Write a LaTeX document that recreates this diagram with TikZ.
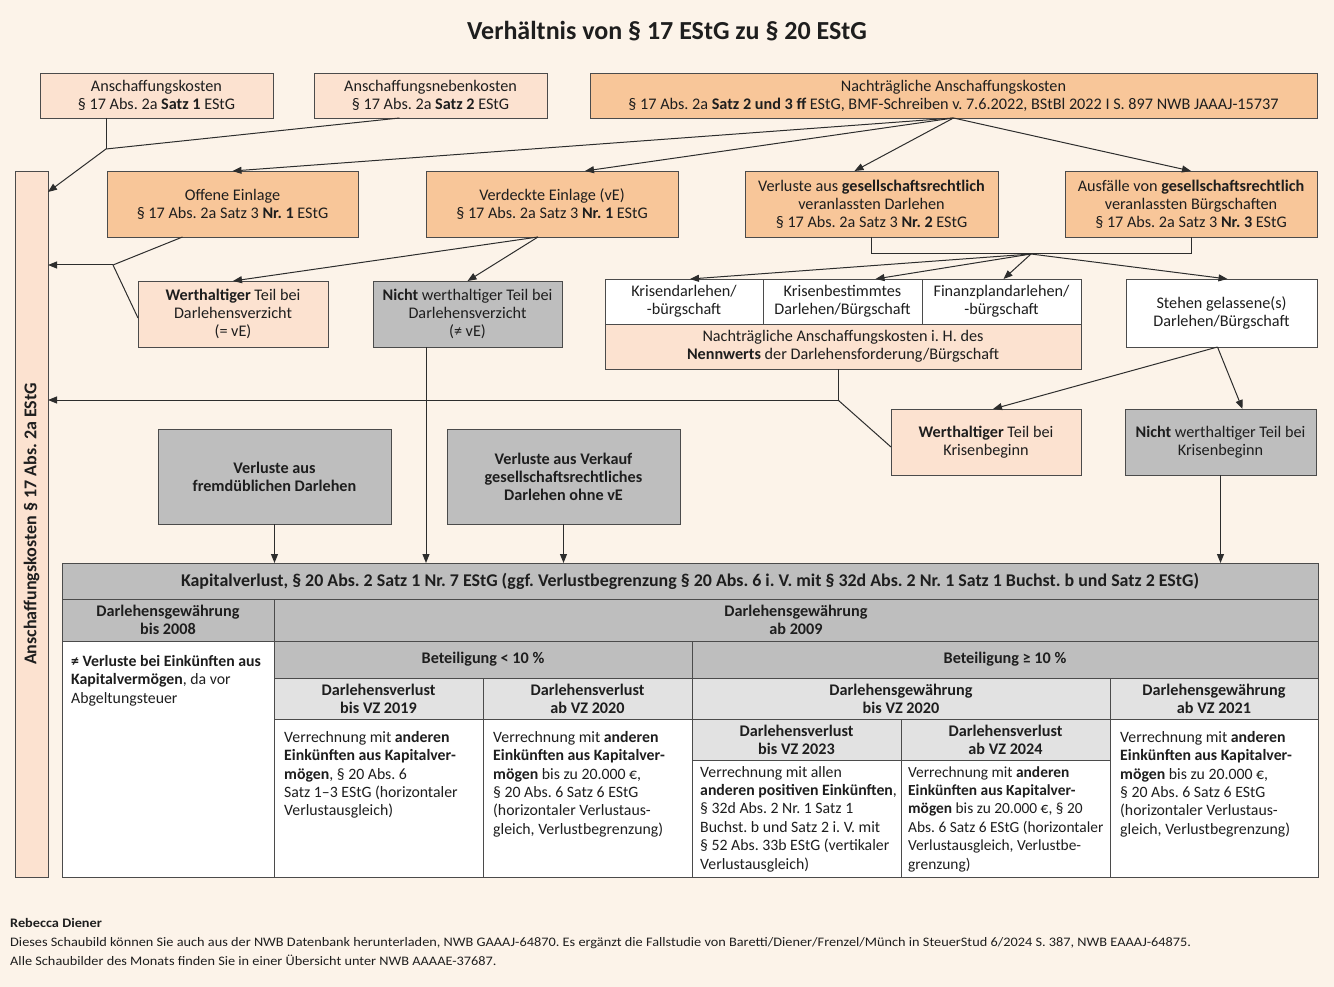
\documentclass[tikz,border=0pt]{standalone}
\usepackage{fontspec}
\setmainfont{Carlito}
\newfontfamily\footfont[FakeStretch=1.1]{Carlito}
\usetikzlibrary{arrows.meta}
\frenchspacing
\definecolor{bgc}{RGB}{252,243,233}
\definecolor{peachc}{RGB}{252,226,208}
\definecolor{orangec}{RGB}{248,198,153}
\definecolor{grayc}{RGB}{190,190,190}
\definecolor{lgrayc}{RGB}{226,226,226}
\definecolor{bordc}{RGB}{75,75,75}
\definecolor{linec}{RGB}{45,45,45}
\definecolor{txtc}{RGB}{30,30,30}
\newcommand\bx[7]{\node[#6, minimum width={(#4-#2)*1pt}, minimum height={(#5-#3)*1pt}] (#1) at ({(#2+#4)/2},{(#3+#5)/2}) {#7};}
\tikzset{
  box/.style={draw=bordc, line width=0.9pt, inner sep=0pt, outer sep=0pt, align=center, text=txtc, font=\frenchspacing\fontsize{16.2}{18}\selectfont},
  peach/.style={box, fill=peachc},
  orange/.style={box, fill=orangec},
  grayb/.style={box, fill=grayc},
  lgrayb/.style={box, fill=lgrayc},
  whiteb/.style={box, fill=white},
  hdr/.style={font=\frenchspacing\fontsize{16.2}{18.2}\selectfont\bfseries},
  bodytxt/.style={anchor=north west, inner sep=0pt, align=left, text=txtc, font=\frenchspacing\fontsize{15.8}{18.4}\selectfont},
  conn/.style={draw=linec, line width=1pt},
  arr/.style={conn, -{Triangle[length=9pt,width=7pt]}}
}
\begin{document}
\begin{tikzpicture}[x=1pt,y=-1pt]
\path[fill=bgc] (0,0) rectangle (1334,987);
\useasboundingbox (0,0) rectangle (1334,987);
% title
\node[text=txtc, font=\frenchspacing\fontsize{26}{28}\selectfont\bfseries] (title) at (667,31) {Verhältnis von § 17 EStG zu § 20 EStG};
% top row
\bx{ak}{40}{73}{273}{118}{peach}{Anschaffungskosten\\§ 17 Abs. 2a \textbf{Satz 1} EStG}
\bx{anb}{314}{73}{547}{118}{peach}{Anschaffungsnebenkosten\\§ 17 Abs. 2a \textbf{Satz 2} EStG}
\bx{nak}{590}{73}{1317}{118}{orange}{Nachträgliche Anschaffungskosten\\§ 17 Abs. 2a \textbf{Satz 2 und 3 ff} EStG, BMF-Schreiben v. 7.6.2022, BStBl 2022 I S. 897 NWB JAAAJ-15737}
% vertical bar
\bx{bar}{15}{171}{48}{877}{peach}{}
\node[rotate=90, text=txtc, font=\frenchspacing\fontsize{18}{20}\selectfont\bfseries] (barlbl) at (bar.center) {Anschaffungskosten § 17 Abs. 2a EStG};
% second row
\bx{oe}{107}{171}{358}{237}{orange}{Offene Einlage\\§ 17 Abs. 2a Satz 3 \textbf{Nr. 1} EStG}
\bx{ve}{426}{171}{678}{237}{orange}{Verdeckte Einlage (vE)\\§ 17 Abs. 2a Satz 3 \textbf{Nr. 1} EStG}
\bx{vg}{745}{171}{998}{237}{orange}{Verluste aus \textbf{gesellschaftsrechtlich}\\veranlassten Darlehen\\§ 17 Abs. 2a Satz 3 \textbf{Nr. 2} EStG}
\bx{af}{1065}{171}{1317}{237}{orange}{Ausfälle von \textbf{gesellschaftsrechtlich}\\veranlassten Bürgschaften\\§ 17 Abs. 2a Satz 3 \textbf{Nr. 3} EStG}
% third row
\bx{wt}{138}{281}{328}{347}{peach}{\textbf{Werthaltiger} Teil bei\\Darlehensverzicht\\(= vE)}
\bx{nw}{373}{281}{562}{347}{grayb}{\textbf{Nicht} werthaltiger Teil bei\\Darlehensverzicht\\(≠ vE)}
\bx{kd}{605}{279}{763}{324}{whiteb}{Krisendarlehen/\\-bürgschaft}
\bx{kb}{763}{279}{922}{324}{whiteb}{Krisenbestimmtes\\Darlehen/Bürgschaft}
\bx{kf}{922}{279}{1081}{324}{whiteb}{Finanzplandarlehen/\\-bürgschaft}
\bx{krn}{605}{324}{1081}{369}{peach}{Nachträgliche Anschaffungskosten i. H. des\\\textbf{Nennwerts} der Darlehensforderung/Bürgschaft}
\bx{sg}{1126}{279}{1317}{347}{whiteb}{Stehen gelassene(s)\\Darlehen/Bürgschaft}
% fourth row
\bx{wk}{891}{409}{1081}{475}{peach}{\textbf{Werthaltiger} Teil bei\\Krisenbeginn}
\bx{nk}{1125}{409}{1316}{475}{grayb}{\textbf{Nicht} werthaltiger Teil bei\\Krisenbeginn}
\bx{fd}{158}{429}{391}{524}{grayb}{\textbf{Verluste aus}\\\textbf{fremdüblichen Darlehen}}
\bx{vv}{447}{429}{680}{524}{grayb}{\textbf{Verluste aus Verkauf}\\\textbf{gesellschaftsrechtliches}\\\textbf{Darlehen ohne vE}}
% table
\bx{tt}{62}{563}{1318}{599}{grayb,font=\frenchspacing\fontsize{17.9}{20}\selectfont\bfseries}{Kapitalverlust, § 20 Abs. 2 Satz 1 Nr. 7 EStG (ggf. Verlustbegrenzung § 20 Abs. 6 i. V. mit § 32d Abs. 2 Nr. 1 Satz 1 Buchst. b und Satz 2 EStG)}
\bx{d08}{62}{599}{274}{641}{grayb,hdr}{Darlehensgewährung\\bis 2008}
\bx{d09}{274}{599}{1318}{641}{grayb,hdr}{Darlehensgewährung\\ab 2009}
\bx{b08}{62}{641}{274}{877}{whiteb}{}
\bx{blt}{274}{641}{692}{678}{grayb,hdr}{Beteiligung < 10 \%}
\bx{bge}{692}{641}{1318}{678}{grayb,hdr}{Beteiligung ≥ 10 \%}
\bx{h19}{274}{678}{483}{719}{lgrayb,hdr}{Darlehensverlust\\bis VZ 2019}
\bx{h20}{483}{678}{692}{719}{lgrayb,hdr}{Darlehensverlust\\ab VZ 2020}
\bx{hg20}{692}{678}{1110}{719}{lgrayb,hdr}{Darlehensgewährung\\bis VZ 2020}
\bx{hg21}{1110}{678}{1318}{719}{lgrayb,hdr}{Darlehensgewährung\\ab VZ 2021}
\bx{h23}{692}{719}{901}{760}{lgrayb,hdr}{Darlehensverlust\\bis VZ 2023}
\bx{h24}{901}{719}{1110}{760}{lgrayb,hdr}{Darlehensverlust\\ab VZ 2024}
\bx{c19}{274}{719}{483}{877}{whiteb}{}
\bx{c20}{483}{719}{692}{877}{whiteb}{}
\bx{c23}{692}{760}{901}{877}{whiteb}{}
\bx{c24}{901}{760}{1110}{877}{whiteb}{}
\bx{c21}{1110}{719}{1318}{877}{whiteb}{}
\node[bodytxt] (t08) at ([xshift=9pt,yshift=-14pt]b08.north west) {\textbf{≠ Verluste bei Einkünften aus}\\\textbf{Kapitalvermögen}, da vor\\Abgeltungsteuer};
\node[bodytxt] (t19) at ([xshift=10pt,yshift=-12pt]c19.north west) {Verrechnung mit \textbf{anderen}\\\textbf{Einkünften aus Kapitalver-}\\\textbf{mögen}, § 20 Abs. 6\\Satz 1–3 EStG (horizontaler\\Verlustausgleich)};
\node[bodytxt] (t20) at ([xshift=10pt,yshift=-12pt]c20.north west) {Verrechnung mit \textbf{anderen}\\\textbf{Einkünften aus Kapitalver-}\\\textbf{mögen} bis zu 20.000 €,\\§ 20 Abs. 6 Satz 6 EStG\\(horizontaler Verlustaus-\\gleich, Verlustbegrenzung)};
\node[bodytxt] (t23) at ([xshift=8pt,yshift=-6pt]c23.north west) {Verrechnung mit allen\\\textbf{anderen positiven Einkünften},\\§ 32d Abs. 2 Nr. 1 Satz 1\\Buchst. b und Satz 2 i. V. mit\\§ 52 Abs. 33b EStG (vertikaler\\Verlustausgleich)};
\node[bodytxt, font=\frenchspacing\fontsize{15.4}{18.4}\selectfont] (t24) at ([xshift=7pt,yshift=-6pt]c24.north west) {Verrechnung mit \textbf{anderen}\\\textbf{Einkünften aus Kapitalver-}\\\textbf{mögen} bis zu 20.000 €, § 20\\Abs. 6 Satz 6 EStG (horizontaler\\Verlustausgleich, Verlustbe-\\grenzung)};
\node[bodytxt] (t21) at ([xshift=10pt,yshift=-12pt]c21.north west) {Verrechnung mit \textbf{anderen}\\\textbf{Einkünften aus Kapitalver-}\\\textbf{mögen} bis zu 20.000 €,\\§ 20 Abs. 6 Satz 6 EStG\\(horizontaler Verlustaus-\\gleich, Verlustbegrenzung)};
% connectors
\coordinate (j1) at (106,149);
\draw[conn] (ak.south -| j1) -- (j1);
\draw[conn] ([xshift=-31pt]anb.south) -- (j1);
\draw[arr] (j1) -- ([yshift=-21pt]bar.north east);
\draw[arr] (nak.south) -- (oe.north);
\draw[arr] (nak.south) -- ([xshift=33pt]ve.north);
\draw[arr] (nak.south) -- ([xshift=-17pt]vg.north);
\draw[arr] (nak.south) -- (af.north);
\coordinate (j2) at (113,265);
\draw[conn] ([xshift=-50pt]oe.south) -- (j2);
\draw[conn] (j2) -- ([yshift=-4pt]wt.west);
\draw[arr] (j2) -- (bar.east |- j2);
\draw[arr] ([xshift=-14pt]ve.south) -- (wt.north);
\draw[arr] ([xshift=-14pt]ve.south) -- (nw.north);
\draw[arr] ([xshift=-41.5pt]nw.south) coordinate (s1) -- (s1 |- tt.north);
\coordinate (j3) at (838,400);
\draw[conn] (krn.south -| j3) -- (j3);
\draw[arr] (j3) -- (bar.east |- j3);
\draw[conn] (j3) -- ([yshift=-5pt]wk.west);
\coordinate (j4) at (1031,254);
\draw[conn] (vg.south) -- (vg.south |- j4) -- (af.south |- j4) -- (af.south);
\draw[arr] (j4) -- ([xshift=6pt]kd.north);
\draw[arr] (j4) -- ([xshift=33pt]kb.north);
\draw[arr] (j4) -- ([xshift=2pt]kf.north);
\draw[arr] (j4) -- ([xshift=6pt]sg.north);
\draw[arr] ([xshift=-4pt]sg.south) -- ([xshift=7pt]wk.north);
\draw[arr] ([xshift=-4pt]sg.south) -- ([xshift=22pt]nk.north);
\draw[arr] (nk.south) -- (nk.south |- tt.north);
\draw[arr] (fd.south) -- (fd.south |- tt.north);
\draw[arr] (vv.south) -- (vv.south |- tt.north);
% footer
\node[anchor=north west, inner sep=0pt, align=left, text=txtc, font=\frenchspacing\footfont\fontsize{13}{19}\selectfont] (foot) at (10,918) {\textbf{Rebecca Diener}\\Dieses Schaubild können Sie auch aus der NWB Datenbank herunterladen, NWB GAAAJ-64870. Es ergänzt die Fallstudie von Baretti/Diener/Frenzel/Münch in SteuerStud 6/2024 S. 387, NWB EAAAJ-64875.\\Alle Schaubilder des Monats finden Sie in einer Übersicht unter NWB AAAAE-37687.};
\end{tikzpicture}
\end{document}
